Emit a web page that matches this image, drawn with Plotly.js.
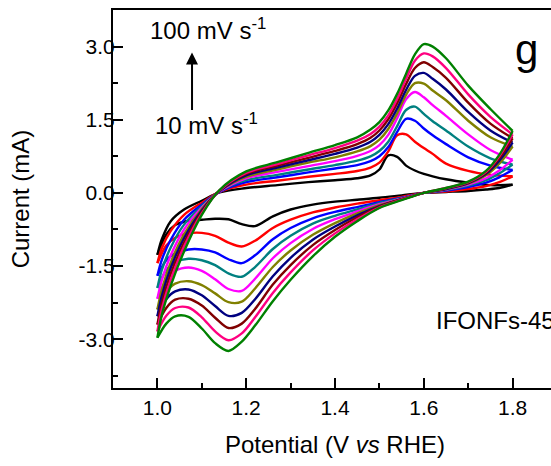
<!DOCTYPE html>
<html>
<head>
<meta charset="utf-8">
<script src="https://cdn.plot.ly/plotly-3.0.1.min.js"></script>
<style>
html,body{margin:0;padding:0;overflow:hidden;background:#fff;}
#chart{width:600px;height:466px;}
</style>
</head>
<body>
<div id="chart"></div>
<script>
// Scan rates (mV/s) and colours
const scanRates = [10, 20, 30, 40, 50, 60, 70, 80, 90, 100];
const colors = ['#000000', '#FF0000', '#0000FF', '#008080', '#FF00FF', '#808000', '#000080', '#800000', '#FF0080', '#008000'];

// Anodic (forward) branch potentials, V vs RHE
const potUp = [1.00, 1.01, 1.03, 1.06, 1.10, 1.14, 1.20, 1.27, 1.34, 1.40, 1.45, 1.48, 1.50, 1.52, 1.54, 1.56, 1.58, 1.60, 1.62, 1.65, 1.70, 1.75, 1.80];
// Anodic branch currents (mA), one list per scan rate
const up10  = [-1.27, -0.95, -0.58, -0.34, -0.16, 0.01, 0.10, 0.16, 0.22, 0.26, 0.30, 0.36, 0.48, 0.77, 0.74, 0.56, 0.46, 0.39, 0.34, 0.28, 0.21, 0.16, 0.17];
const up20  = [-1.44, -1.13, -0.78, -0.45, -0.20, 0.02, 0.17, 0.25, 0.33, 0.39, 0.45, 0.52, 0.62, 0.85, 1.18, 1.20, 1.05, 0.92, 0.80, 0.60, 0.45, 0.37, 0.34];
const up30  = [-1.70, -1.37, -0.96, -0.55, -0.24, 0.02, 0.22, 0.32, 0.42, 0.50, 0.57, 0.65, 0.75, 0.94, 1.25, 1.52, 1.48, 1.32, 1.18, 1.00, 0.73, 0.56, 0.47];
const up40  = [-1.95, -1.58, -1.12, -0.65, -0.27, 0.03, 0.26, 0.37, 0.48, 0.57, 0.66, 0.75, 0.86, 1.05, 1.37, 1.70, 1.77, 1.62, 1.47, 1.28, 0.95, 0.71, 0.58];
const up50  = [-2.17, -1.79, -1.28, -0.75, -0.30, 0.03, 0.30, 0.43, 0.55, 0.65, 0.76, 0.86, 0.98, 1.19, 1.53, 1.92, 2.07, 1.96, 1.80, 1.58, 1.20, 0.88, 0.68];
const up60  = [-2.39, -1.98, -1.43, -0.85, -0.33, 0.04, 0.33, 0.48, 0.62, 0.73, 0.85, 0.96, 1.09, 1.31, 1.63, 2.01, 2.25, 2.24, 2.10, 1.90, 1.48, 1.14, 0.95];
const up70  = [-2.53, -2.11, -1.54, -0.93, -0.36, 0.04, 0.36, 0.52, 0.67, 0.80, 0.93, 1.05, 1.19, 1.41, 1.73, 2.11, 2.40, 2.46, 2.34, 2.12, 1.66, 1.28, 1.03];
const up80  = [-2.70, -2.25, -1.66, -1.02, -0.39, 0.05, 0.39, 0.56, 0.72, 0.86, 1.00, 1.13, 1.28, 1.51, 1.84, 2.23, 2.56, 2.68, 2.58, 2.36, 1.85, 1.42, 1.12];
const up90  = [-2.84, -2.38, -1.78, -1.10, -0.42, 0.05, 0.41, 0.59, 0.77, 0.92, 1.07, 1.21, 1.36, 1.59, 1.93, 2.34, 2.71, 2.86, 2.80, 2.56, 2.02, 1.56, 1.20];
const up100 = [-2.97, -2.50, -1.90, -1.20, -0.45, 0.06, 0.44, 0.63, 0.82, 0.98, 1.14, 1.30, 1.45, 1.69, 2.03, 2.44, 2.84, 3.05, 3.00, 2.76, 2.20, 1.72, 1.27];

// Cathodic (reverse) branch potentials, V vs RHE
const potDown = [1.80, 1.77, 1.74, 1.70, 1.65, 1.60, 1.55, 1.50, 1.45, 1.40, 1.35, 1.30, 1.26, 1.22, 1.19, 1.16, 1.13, 1.10, 1.07, 1.04, 1.02, 1.00];
// Cathodic branch currents (mA)
const dn10  = [0.17, 0.10, 0.07, 0.04, 0.02, 0.00, -0.05, -0.10, -0.14, -0.18, -0.24, -0.34, -0.48, -0.68, -0.64, -0.54, -0.53, -0.55, -0.57, -0.66, -0.85, -1.27];
const dn20  = [0.34, 0.22, 0.14, 0.08, 0.03, 0.00, -0.08, -0.15, -0.22, -0.30, -0.40, -0.55, -0.72, -0.98, -1.10, -1.02, -0.88, -0.82, -0.83, -0.92, -1.08, -1.44];
const dn30  = [0.47, 0.32, 0.21, 0.12, 0.05, 0.00, -0.10, -0.19, -0.29, -0.39, -0.52, -0.72, -0.95, -1.28, -1.44, -1.36, -1.22, -1.16, -1.16, -1.24, -1.38, -1.70];
const dn40  = [0.58, 0.40, 0.26, 0.15, 0.06, 0.00, -0.11, -0.21, -0.34, -0.47, -0.63, -0.88, -1.15, -1.52, -1.72, -1.65, -1.48, -1.38, -1.35, -1.42, -1.58, -1.95];
const dn50  = [0.68, 0.46, 0.30, 0.17, 0.07, 0.00, -0.12, -0.23, -0.38, -0.54, -0.74, -1.03, -1.34, -1.76, -2.01, -1.97, -1.77, -1.60, -1.53, -1.60, -1.78, -2.17];
const dn60  = [0.95, 0.60, 0.36, 0.19, 0.08, 0.00, -0.13, -0.25, -0.42, -0.62, -0.86, -1.18, -1.52, -1.96, -2.23, -2.24, -2.06, -1.89, -1.81, -1.86, -2.03, -2.39];
const dn70  = [1.03, 0.66, 0.39, 0.20, 0.08, 0.00, -0.13, -0.27, -0.46, -0.69, -0.96, -1.33, -1.71, -2.18, -2.46, -2.52, -2.32, -2.10, -1.98, -2.02, -2.18, -2.53];
const dn80  = [1.12, 0.71, 0.41, 0.21, 0.09, 0.00, -0.13, -0.28, -0.50, -0.76, -1.07, -1.48, -1.88, -2.38, -2.68, -2.77, -2.56, -2.31, -2.17, -2.19, -2.36, -2.70];
const dn90  = [1.20, 0.75, 0.43, 0.22, 0.10, 0.00, -0.14, -0.30, -0.54, -0.83, -1.18, -1.63, -2.05, -2.55, -2.88, -3.02, -2.84, -2.55, -2.35, -2.36, -2.52, -2.84];
const dn100 = [1.27, 0.78, 0.45, 0.23, 0.10, 0.00, -0.15, -0.31, -0.58, -0.90, -1.30, -1.78, -2.22, -2.72, -3.05, -3.24, -3.08, -2.78, -2.54, -2.53, -2.68, -2.97];

const upAll = [up10, up20, up30, up40, up50, up60, up70, up80, up90, up100];
const dnAll = [dn10, dn20, dn30, dn40, dn50, dn60, dn70, dn80, dn90, dn100];

// Tick labels
const xTickVals = [1.0, 1.2, 1.4, 1.6, 1.8];
const xTickText = ['1.0', '1.2', '1.4', '1.6', '1.8'];
const yTickVals = [-3.0, -1.5, 0.0, 1.5, 3.0];
const yTickText = ['-3.0', '-1.5', '0.0', '1.5', '3.0'];

const traces = [];
scanRates.forEach((r, i) => {
  const line = {color: colors[i], width: 2.4, shape: 'spline', smoothing: 0.9};
  traces.push({x: potUp, y: upAll[i], type: 'scatter', mode: 'lines', line: line, name: r + ' mV/s', showlegend: false, hoverinfo: 'skip'});
  traces.push({x: potDown, y: dnAll[i], type: 'scatter', mode: 'lines', line: line, name: r + ' mV/s', showlegend: false, hoverinfo: 'skip'});
});

const FONT = 'Arial, "Liberation Sans", sans-serif';
const layout = {
  width: 600, height: 466,
  margin: {l: 113, r: 43, t: 10, b: 78},
  paper_bgcolor: '#fff', plot_bgcolor: '#fff',
  font: {family: FONT, color: '#000', size: 21},
  xaxis: {
    range: [0.9, 1.9], showgrid: false, zeroline: false,
    showline: true, linecolor: '#000', linewidth: 2, mirror: true,
    ticks: 'inside', ticklen: 10, tickwidth: 2, tickcolor: '#000',
    tickvals: xTickVals, ticktext: xTickText,
    tickfont: {size: 21, family: FONT},
    minor: {ticks: 'inside', ticklen: 5, tickwidth: 2, tickcolor: '#000', dtick: 0.1, tick0: 0.9, showgrid: false},
    title: {text: 'Potential (V <i>vs</i> RHE)', font: {size: 24, family: FONT}, standoff: 18}
  },
  yaxis: {
    range: [-4.0, 3.75], showgrid: false, zeroline: false,
    showline: true, linecolor: '#000', linewidth: 2, mirror: true,
    ticks: 'inside', ticklen: 10, tickwidth: 2, tickcolor: '#000',
    tickvals: yTickVals, ticktext: yTickText,
    tickfont: {size: 21, family: FONT},
    ticklabelstandoff: -8,
    minor: {ticks: 'inside', ticklen: 5, tickwidth: 2, tickcolor: '#000', dtick: 0.75, tick0: 0, showgrid: false},
    title: {text: 'Current (mA)', font: {size: 24, family: FONT}, standoff: 42}
  },
  annotations: [
    {x: 0.979, y: 3.37, xref: 'x', yref: 'y', xanchor: 'left', yanchor: 'middle', showarrow: false,
     text: '100 mV s<sup>-1</sup>', font: {size: 24, family: FONT}},
    {x: 0.99, y: 1.42, xref: 'x', yref: 'y', xanchor: 'left', yanchor: 'middle', showarrow: false,
     text: '10 mV s<sup>-1</sup>', font: {size: 24, family: FONT}},
    {x: 1.078, y: 2.88, xref: 'x', yref: 'y', ax: 0, ay: 59, showarrow: true, text: '',
     arrowhead: 2, arrowsize: 1.2, arrowwidth: 2, arrowcolor: '#000'},
    {x: 1.801, y: 2.95, xref: 'x', yref: 'y', xanchor: 'left', yanchor: 'middle', showarrow: false,
     text: 'g', font: {size: 42, family: FONT}},
    {x: 1.622, y: -2.62, xref: 'x', yref: 'y', xanchor: 'left', yanchor: 'middle', showarrow: false,
     text: 'IFONFs-450', font: {size: 24, family: FONT}}
  ]
};

Plotly.newPlot('chart', traces, layout, {displayModeBar: false, staticPlot: true});
</script>
</body>
</html>
